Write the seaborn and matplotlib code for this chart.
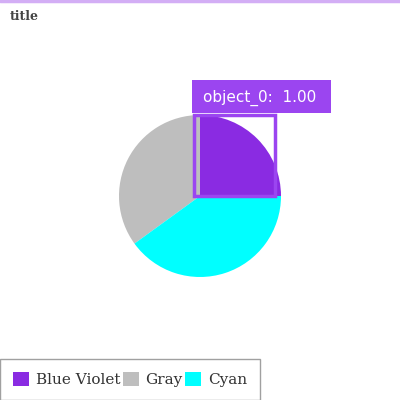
import matplotlib
matplotlib.use("Agg")
import matplotlib.pyplot as plt
import seaborn as sns
from matplotlib.patches import Rectangle, Patch
from matplotlib.lines import Line2D

# data
labels = ["Blue Violet", "Gray", "Cyan"]
shares = [25, 35, 40]
colors = ["#8a2be2", "#bebebe", "#00ffff"]
box_label = "object_0:  1.00"

sns.set_theme(style="white")
plt.rcParams["font.family"] = ["DejaVu Serif"]

fig = plt.figure(figsize=(4, 4), dpi=100)

# pie axes: centre (200, 196) px, radius 81 px
ax = fig.add_axes([119 / 400, (400 - 196 - 81) / 400, 162 / 400, 162 / 400])
wedges, _ = ax.pie(shares, colors=colors, startangle=0, counterclock=True,
                   wedgeprops=dict(linewidth=0))
ax.set_xlim(-1, 1)
ax.set_ylim(-1, 1)
ax.set_aspect("equal")
ax.axis("off")

# detection style box around the first slice
box_col = "#9b45f0"
ax.add_patch(Rectangle((-0.08, 0.0), 1.0, 1.0, fill=False, edgecolor=box_col,
                       linewidth=2.5, clip_on=False, zorder=5))
ax.add_patch(Rectangle((-0.1, 1.03), 1.72, 0.4, facecolor=box_col, edgecolor="none",
                       clip_on=False, zorder=5))
ax.text(0.04, 1.215, box_label, color="white", fontsize=11, family="DejaVu Sans",
        va="center", ha="left", zorder=6, clip_on=False)

# thin top border
fig.add_artist(Line2D([0, 1], [0.997, 0.997], transform=fig.transFigure,
                      color="#d3aef5", linewidth=2.5))

fig.text(10 / 400, 1 - 17 / 400, "title", fontsize=9, fontweight="bold",
         color="#444444", va="center", ha="left")

handles = [Patch(facecolor=c, edgecolor="none") for c in colors]
leg = fig.legend(handles, labels, loc="lower left", bbox_to_anchor=(0, 0), ncol=3,
                 frameon=True, fancybox=False, fontsize=11, handlelength=1.05,
                 handleheight=1.05, handletextpad=0.45, columnspacing=0.15,
                 borderaxespad=0.0, borderpad=0.85, labelcolor="#333333")
leg.get_frame().set_edgecolor("#888888")
leg.get_frame().set_linewidth(1.0)

fig.savefig("out.png", dpi=100, facecolor="white")
